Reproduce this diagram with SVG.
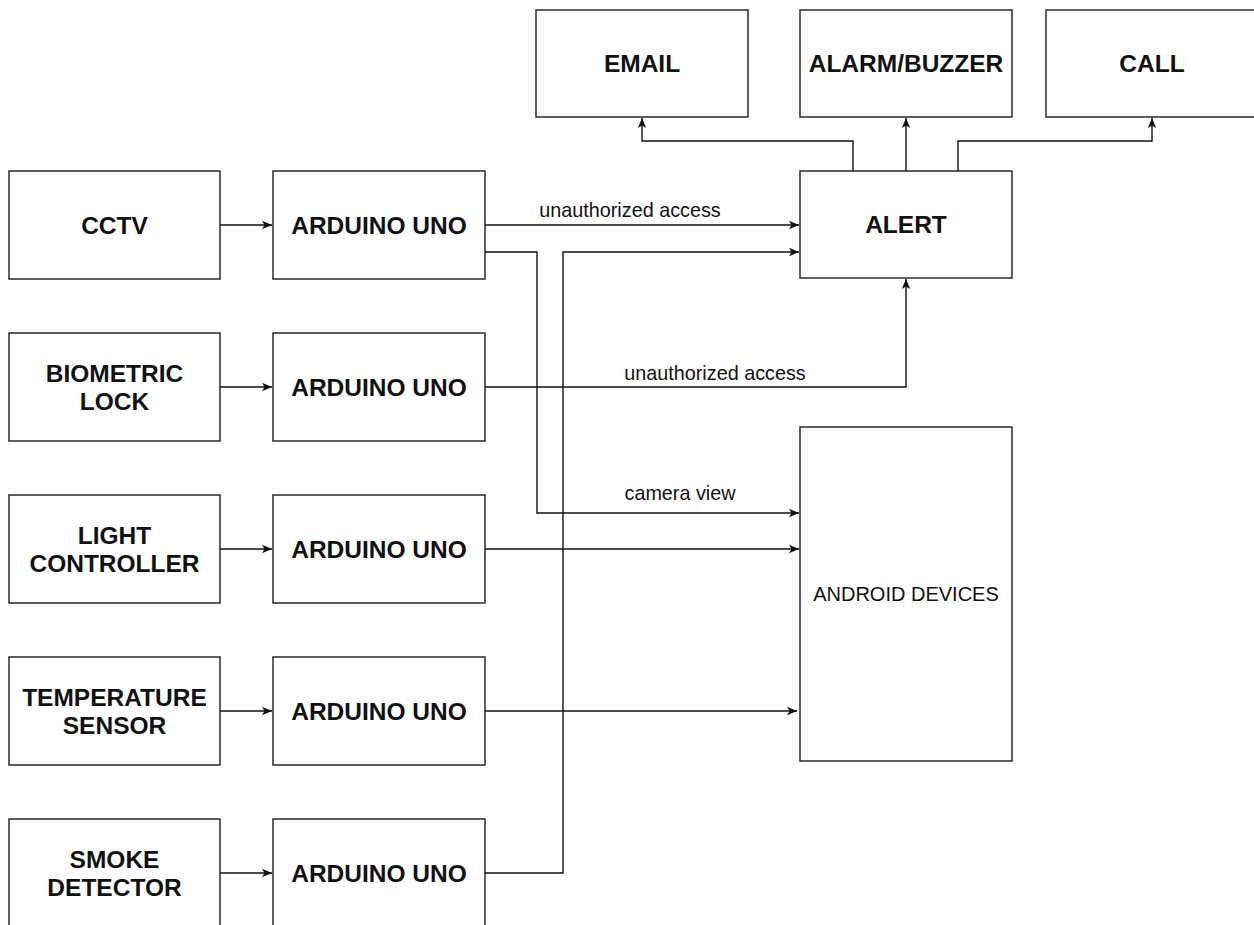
<svg xmlns="http://www.w3.org/2000/svg" width="1254" height="925" viewBox="0 0 1254 925">
<style>
.box{fill:#fff;stroke:#2a2a2a;stroke-width:1.5}
.b{font-family:"Liberation Sans",Arial,sans-serif;font-weight:bold;font-size:24.5px;fill:#111;text-anchor:middle}
.r{font-family:"Liberation Sans",Arial,sans-serif;font-size:20px;fill:#111;text-anchor:middle}
.l{font-family:"Liberation Sans",Arial,sans-serif;font-size:19.8px;fill:#111;text-anchor:middle}
.c{fill:none;stroke:#111;stroke-width:1.4}
</style>
<defs>
<marker id="ah" markerWidth="12" markerHeight="12" refX="10" refY="6" orient="auto" markerUnits="userSpaceOnUse">
<path d="M0,1.8 L10,6 L0,10.2 L2.5,6 Z" fill="#111"/>
</marker>
</defs>
<rect width="1254" height="925" fill="#fff"/>
<g id="email"><rect class="box" x="536" y="10" width="212" height="107"/><text class="b" x="642" y="72">EMAIL</text></g>
<g id="alarm"><rect class="box" x="800" y="10" width="212" height="107"/><text class="b" x="906" y="72">ALARM/BUZZER</text></g>
<g id="call"><rect class="box" x="1046" y="10" width="220" height="107"/><text class="b" x="1152" y="72">CALL</text></g>
<g id="alert"><rect class="box" x="800" y="171" width="212" height="107"/><text class="b" x="906" y="233">ALERT</text></g>
<g id="android"><rect class="box" x="800" y="427" width="212" height="334"/><text class="r" x="906" y="601">ANDROID DEVICES</text></g>
<g id="cctv"><rect class="box" x="9" y="171" width="211" height="108"/><text class="b" x="114.5" y="233.5">CCTV</text></g>
<g id="biometric"><rect class="box" x="9" y="333" width="211" height="108"/><text class="b" x="114.5" y="381.5">BIOMETRIC</text><text class="b" x="114.5" y="409.5">LOCK</text></g>
<g id="light"><rect class="box" x="9" y="495" width="211" height="108"/><text class="b" x="114.5" y="543.5">LIGHT</text><text class="b" x="114.5" y="571.5">CONTROLLER</text></g>
<g id="temperature"><rect class="box" x="9" y="657" width="211" height="108"/><text class="b" x="114.5" y="705.5">TEMPERATURE</text><text class="b" x="114.5" y="733.5">SENSOR</text></g>
<g id="smoke"><rect class="box" x="9" y="819" width="211" height="120"/><text class="b" x="114.5" y="867.5">SMOKE</text><text class="b" x="114.5" y="895.5">DETECTOR</text></g>
<g id="arduino1"><rect class="box" x="273" y="171" width="212" height="108"/><text class="b" x="379" y="233.5">ARDUINO UNO</text></g>
<g id="arduino2"><rect class="box" x="273" y="333" width="212" height="108"/><text class="b" x="379" y="395.5">ARDUINO UNO</text></g>
<g id="arduino3"><rect class="box" x="273" y="495" width="212" height="108"/><text class="b" x="379" y="557.5">ARDUINO UNO</text></g>
<g id="arduino4"><rect class="box" x="273" y="657" width="212" height="108"/><text class="b" x="379" y="719.5">ARDUINO UNO</text></g>
<g id="arduino5"><rect class="box" x="273" y="819" width="212" height="120"/><text class="b" x="379" y="881.5">ARDUINO UNO</text></g>
<g id="connectors">
<path class="c" d="M220,225 H272" marker-end="url(#ah)"/>
<path class="c" d="M220,387 H272" marker-end="url(#ah)"/>
<path class="c" d="M220,549 H272" marker-end="url(#ah)"/>
<path class="c" d="M220,711 H272" marker-end="url(#ah)"/>
<path class="c" d="M220,873 H272" marker-end="url(#ah)"/>
<path class="c" d="M485,225 H799" marker-end="url(#ah)"/>
<path class="c" d="M485,252 H537 V513 H799" marker-end="url(#ah)"/>
<path class="c" d="M485,873 H563 V252 H799" marker-end="url(#ah)"/>
<path class="c" d="M485,387 H906 V279" marker-end="url(#ah)"/>
<path class="c" d="M485,549 H799" marker-end="url(#ah)"/>
<path class="c" d="M485,711 H797" marker-end="url(#ah)"/>
<path class="c" d="M906,171 V118" marker-end="url(#ah)"/>
<path class="c" d="M853,171 V141 H642 V118" marker-end="url(#ah)"/>
<path class="c" d="M958,171 V141 H1152 V118" marker-end="url(#ah)"/>
<text class="l" x="630" y="217">unauthorized access</text>
<text class="l" x="715" y="380">unauthorized access</text>
<text class="l" x="680" y="500">camera view</text>
</g>
</svg>
